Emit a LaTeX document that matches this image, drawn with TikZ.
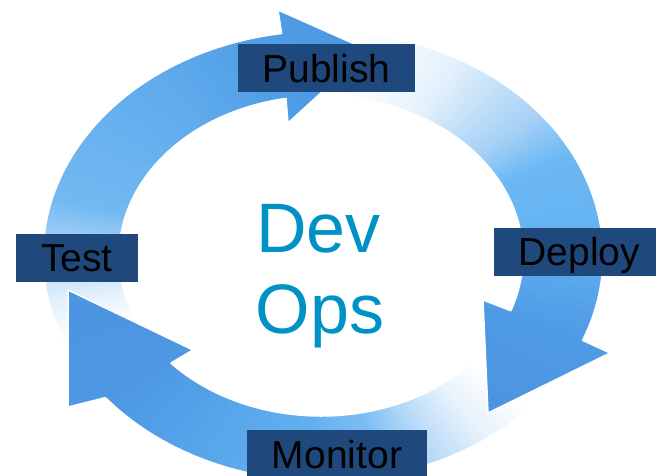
\documentclass[tikz,border=0pt]{standalone}
\usepackage{fontspec}
\setmainfont{Liberation Sans}
\usetikzlibrary{calc}

\definecolor{boxblue}{HTML}{1F497D}
\definecolor{devops}{HTML}{0092C5}
% top arrow, tail to head
\definecolor{tcA}{HTML}{E4F1FC}
\definecolor{tcB}{HTML}{A9D3F7}
\definecolor{tcC}{HTML}{72B9F2}
\definecolor{tcD}{HTML}{62AEEE}
\definecolor{tcE}{HTML}{4F9BE5}
\definecolor{tcF}{HTML}{4A94E2}
% right arrow
\definecolor{rcA}{HTML}{F5FAFE}
\definecolor{rcB}{HTML}{E3F0FC}
\definecolor{rcC}{HTML}{A6D1F6}
\definecolor{rcD}{HTML}{6CB8F3}
\definecolor{rcE}{HTML}{64B3F2}
\definecolor{rcF}{HTML}{4F9AE5}
\definecolor{rcG}{HTML}{4A92DF}
% bottom arrow
\definecolor{bcA}{HTML}{E6F2FC}
\definecolor{bcB}{HTML}{B5D9F8}
\definecolor{bcC}{HTML}{7DBEF3}
\definecolor{bcD}{HTML}{62AFEF}
\definecolor{bcE}{HTML}{56A4EA}
\definecolor{bcF}{HTML}{4D97E3}
\definecolor{bcG}{HTML}{4A92E0}

% fan of thin wedges round #1 from angle #2 to #3, colour #4 -> #5, #6 steps
\newcommand\ringwedges[6]{%
  \foreach \k in {1,...,#6}{%
    \pgfmathsetmacro\wgA{(#2)+((#3)-(#2))*(\k-1)/(#6)}%
    \pgfmathsetmacro\wgB{(#2)+((#3)-(#2))*(\k+0.6)/(#6)}%
    \pgfmathtruncatemacro\wgM{round(100*(\k-0.5)/(#6))}%
    \fill[#5!\wgM!#4] (#1) -- ($(#1)+(\wgA:430pt)$) -- ($(#1)+(\wgB:430pt)$) -- cycle;
  }%
}

% outlines of the three curved arrows (ring between two ellipses)
\def\pathT{($(323,219)+(203:280pt and 225pt)$) arc[start angle=203, end angle=98.5, x radius=280pt, y radius=225pt]
  -- (278,465) -- (368,425) -- (288,352)
  -- ($(321,219)+(100:202pt and 160pt)$) arc[start angle=100, end angle=203, x radius=202pt, y radius=160pt] -- cycle}
\def\pathR{($(323,219)+(84:280pt and 225pt)$) arc[start angle=84, end angle=-22, x radius=280pt, y radius=225pt]
  -- (610,122) -- (488,62) -- (483,175)
  -- ($(321,219)+(-20:202pt and 160pt)$) arc[start angle=-20, end angle=84, x radius=202pt, y radius=160pt] -- cycle}
\def\pathB{($(323,219)+(-42:280pt and 225pt)$) arc[start angle=-42, end angle=-141, x radius=280pt, y radius=225pt]
  -- (68,68) -- (68,185) -- (193,125)
  -- ($(321,219)+(-138:202pt and 160pt)$) arc[start angle=-138, end angle=-42, x radius=202pt, y radius=160pt] -- cycle}
\def\headB{($(323,219)+(-141:280pt and 225pt)$) -- (68,68) -- (68,185) -- (193,125)
  -- ($(321,219)+(-138:202pt and 160pt)$) -- cycle}
\def\headBedge{($(323,219)+(-141:280pt and 225pt)$) -- (68,68) -- (68,185) -- (193,125)
  -- ($(321,219)+(-138:202pt and 160pt)$)}

\newcommand\shadeB{%
  \ringwedges{wc}{-33}{-36}{white}{white}{2}
  \ringwedges{wc}{-36}{-48}{white}{bcA}{14}
  \ringwedges{wc}{-48}{-62}{bcA}{bcB}{16}
  \ringwedges{wc}{-62}{-75}{bcB}{bcC}{16}
  \ringwedges{wc}{-75}{-95}{bcC}{bcD}{16}
  \ringwedges{wc}{-95}{-125}{bcD}{bcE}{14}
  \ringwedges{wc}{-125}{-147}{bcE}{bcF}{12}
  \ringwedges{wc}{-147}{-195}{bcF}{bcG}{14}}

\begin{document}
\begin{tikzpicture}[x=1pt,y=1pt,
  arrowedge/.style={draw=white, line width=1.5pt, line join=round},
  labelbox/.style={fill=boxblue, text=black, font=\fontsize{39}{45}\selectfont,
    text height=28pt, text depth=0pt, minimum height=48pt, inner xsep=25pt, inner ysep=0pt},
  centretext/.style={text=devops, font=\fontsize{70}{81}\selectfont, anchor=base, inner sep=0pt}]
\useasboundingbox (0,0) rectangle (656,475);
\clip (0,0) rectangle (656,475);
\coordinate (wc) at (322,219);

% bottom arrow (Monitor -> Test)
\begin{scope}
  \clip \pathB;
  \shadeB
\end{scope}
\draw[arrowedge] \pathB;

% right arrow (Publish -> Deploy)
\begin{scope}
  \clip \pathR;
  \ringwedges{wc}{87}{83}{white}{white}{2}
  \ringwedges{wc}{83}{70}{white}{rcA}{12}
  \ringwedges{wc}{70}{55}{rcA}{rcB}{14}
  \ringwedges{wc}{55}{33}{rcB}{rcC}{22}
  \ringwedges{wc}{33}{22}{rcC}{rcD}{14}
  \ringwedges{wc}{22}{5}{rcD}{rcE}{12}
  \ringwedges{wc}{5}{-18}{rcE}{rcF}{14}
  \ringwedges{wc}{-18}{-50}{rcF}{rcG}{12}
\end{scope}
\draw[arrowedge] \pathR;

% top arrow (Test -> Publish)
\begin{scope}
  \clip \pathT;
  \ringwedges{wc}{206}{199}{white}{white}{2}
  \ringwedges{wc}{199}{190}{white}{tcA}{12}
  \ringwedges{wc}{190}{178}{tcA}{tcB}{16}
  \ringwedges{wc}{178}{168}{tcB}{tcC}{14}
  \ringwedges{wc}{168}{140}{tcC}{tcD}{18}
  \ringwedges{wc}{140}{100}{tcD}{tcE}{20}
  \ringwedges{wc}{100}{60}{tcE}{tcF}{12}
\end{scope}
\draw[arrowedge] \pathT;

% head of the bottom arrow lies over the tail of the top one
\begin{scope}
  \clip \headB;
  \shadeB
\end{scope}
\draw[arrowedge] \headBedge;

% stage labels
\node[labelbox] (publish) at (326.5,406.5) {Publish};
\node[labelbox] (deploy) at (579.5,223.5) {Deploy};
\node[labelbox] (test) at (77,217.5) {Test};
\node[labelbox] (monitor) at (337,21) {Monitor};

% centre title
\node[centretext] (dev) at (318.5,223) {Dev};
\node[centretext] (ops) at (320,142) {Ops};
\end{tikzpicture}
\end{document}
